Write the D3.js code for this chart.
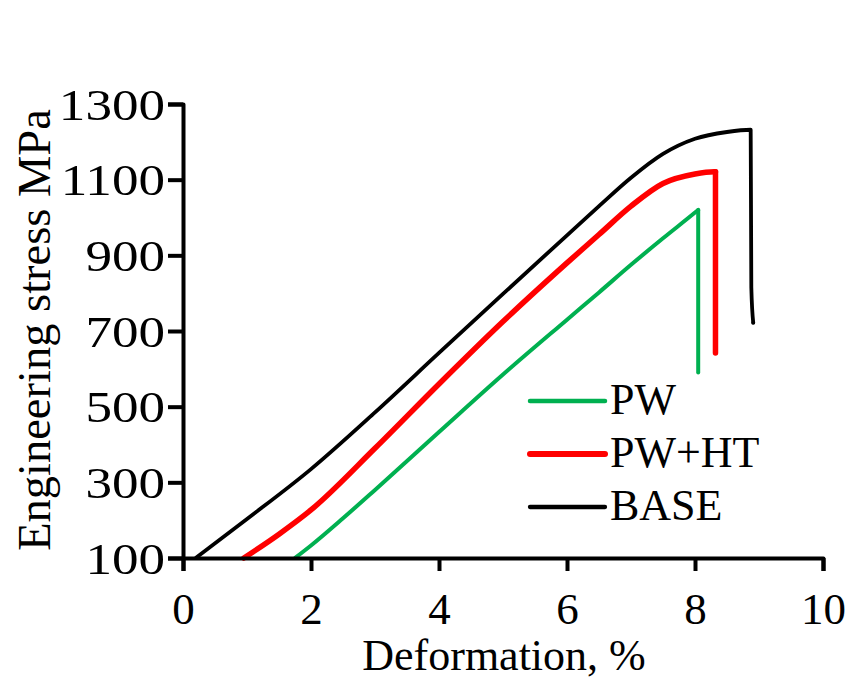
<!DOCTYPE html>
<html>
<head>
<meta charset="utf-8">
<script src="https://cdn.jsdelivr.net/npm/d3@7"></script>
<style>
  html, body { margin: 0; padding: 0; background: #fff; }
  svg { display: block; }
  text { font-family: "Liberation Serif", "Times New Roman", serif; fill: #000; }
</style>
</head>
<body>
<svg id="chart" width="846" height="682"></svg>
<script>
// ---- data ----
const seriesNames = ["PW", "PW+HT", "BASE"];
const seriesColors = ["#00B050", "#FF0000", "#000000"];

const strainPW = [1.75, 2.0, 2.5, 3.0, 4.0, 5.0, 6.0, 6.5, 7.0, 7.5, 8.0, 8.05, 8.05];
const stressPW = [100, 133, 205, 280, 433, 585, 730, 802, 875, 945, 1013, 1020, 590];

const strainPWHT = [0.95, 1.5, 2.0, 3.0, 4.0, 5.0, 6.0, 6.5, 7.0, 7.5, 8.0, 8.3, 8.32, 8.32];
const stressPWHT = [100, 163, 227, 390, 560, 725, 880, 955, 1030, 1090, 1115, 1121, 1121, 642];

const strainBASE = [0.2, 1.0, 2.0, 3.0, 4.0, 5.0, 6.0, 6.5, 7.0, 7.5, 8.0, 8.5, 8.87, 8.88, 8.91];
const stressBASE = [100, 203, 335, 485, 642, 798, 953, 1030, 1105, 1168, 1208, 1226, 1232, 815, 722];

const xTicks = [0, 2, 4, 6, 8, 10];
const yTicks = [100, 300, 500, 700, 900, 1100, 1300];
const xTitle = "Deformation, %";
const yTitle = "Engineering stress MPa";

// ---- layout ----
const svg = d3.select("#chart");
const x = d3.scaleLinear().domain([0, 10]).range([183, 823]);
const y = d3.scaleLinear().domain([100, 1300]).range([558, 104]);
const FONT = 45;

const series = [
  { name: seriesNames[0], color: seriesColors[0], xs: strainPW, ys: stressPW, w: 4 },
  { name: seriesNames[1], color: seriesColors[1], xs: strainPWHT, ys: stressPWHT, w: 5.5 },
  { name: seriesNames[2], color: seriesColors[2], xs: strainBASE, ys: stressBASE, w: 3.8 }
];

const smooth = d3.line().x(d => x(d[0])).y(d => y(d[1])).curve(d3.curveMonotoneX);
const straight = d3.line().x(d => x(d[0])).y(d => y(d[1]));

series.forEach(s => {
  const pts = s.xs.map((v, i) => [v, s.ys[i]]);
  let k = pts.length - 1;
  while (k > 0 && pts[k][0] <= pts[k - 1][0] + 0.02 && pts[k][1] < pts[k - 1][1] - 50) k--;
  const rise = pts.slice(0, k + 1);
  const drop = pts.slice(k);
  const g = svg.append("g");
  g.append("path").attr("d", smooth(rise)).attr("fill", "none")
    .attr("stroke", s.color).attr("stroke-width", s.w).attr("stroke-linejoin", "round").attr("stroke-linecap", "round");
  g.append("path").attr("d", straight(drop)).attr("fill", "none")
    .attr("stroke", s.color).attr("stroke-width", s.w).attr("stroke-linejoin", "round").attr("stroke-linecap", "round");
});

// axes
const xAxis = d3.axisBottom(x).tickValues(xTicks).tickSize(13).tickSizeOuter(13).tickFormat(d3.format("d"));
const yAxis = d3.axisLeft(y).tickValues(yTicks).tickSize(15).tickSizeOuter(15).tickFormat(d3.format("d"));

const gx = svg.append("g").attr("transform", `translate(0,${y(100)})`).call(xAxis);
const gy = svg.append("g").attr("transform", `translate(${x(0)},0)`).call(yAxis);

[gx, gy].forEach(g => {
  g.attr("font-family", null);
  g.select(".domain").attr("stroke", "#000").attr("stroke-width", 4).attr("stroke-linejoin", "round");
  g.selectAll(".tick line").attr("stroke", "#000").attr("stroke-width", 4);
  g.selectAll(".tick text").style("font-family", '"Liberation Serif", serif').style("font-size", FONT + "px").attr("fill", "#000");
});
gx.selectAll(".tick text").attr("dy", null).attr("y", 624 - 558);
const ySX = 1.18;
gy.selectAll(".tick text").attr("dy", null).attr("y", 15).attr("x", -18 / ySX)
  .attr("transform", `scale(${ySX},1)`);

// axis titles
svg.append("text").attr("x", 504).attr("y", 670).attr("text-anchor", "middle")
  .style("font-size", "44px").text(xTitle);
svg.append("text").attr("transform", `translate(50,330) rotate(-90)`).attr("text-anchor", "middle")
  .style("font-size", "46.5px").text(yTitle);

// legend
const legendY = [401, 454, 507];
const leg = svg.append("g");
series.forEach((s, i) => {
  leg.append("line").attr("x1", 530).attr("x2", 605).attr("y1", legendY[i]).attr("y2", legendY[i])
    .attr("stroke", s.color).attr("stroke-width", s.w + 0.5).attr("stroke-linecap", "round");
  leg.append("text").attr("x", 610).attr("y", legendY[i] + 13).style("font-size", "44px").text(s.name);
});
</script>
</body>
</html>
